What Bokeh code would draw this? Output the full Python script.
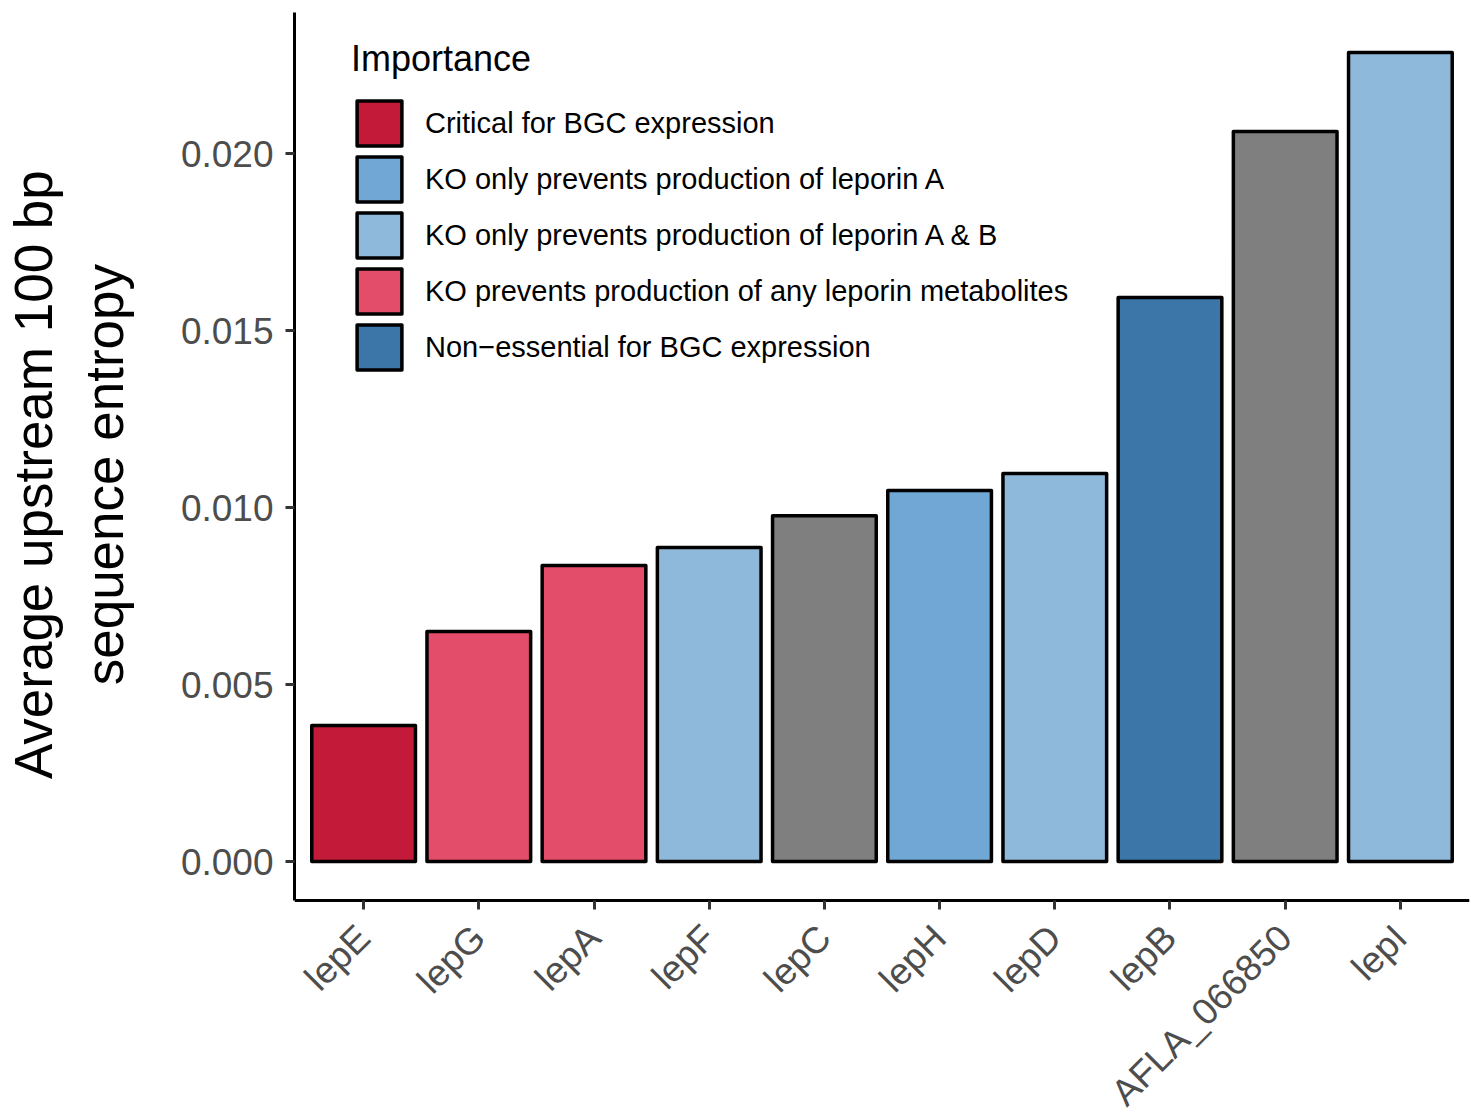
import math
from bokeh.plotting import figure
from bokeh.models import (ColumnDataSource, FactorRange, Range1d, FixedTicker,
                          NumeralTickFormatter, Legend, LegendItem)
from bokeh.embed import file_html
from bokeh.resources import INLINE

# ---- data ----
genes = ["lepE", "lepG", "lepA", "lepF", "lepC", "lepH", "lepD", "lepB", "AFLA_066850", "lepI"]
entropy = [0.00384, 0.00650, 0.00836, 0.00887, 0.00977, 0.01048, 0.01096, 0.01593, 0.02062, 0.02285]
importance = [
    "Critical for BGC expression",
    "KO prevents production of any leporin metabolites",
    "KO prevents production of any leporin metabolites",
    "KO only prevents production of leporin A & B",
    "NA",
    "KO only prevents production of leporin A",
    "KO only prevents production of leporin A & B",
    "Non\u2212essential for BGC expression",
    "NA",
    "KO only prevents production of leporin A & B",
]
legend_levels = [
    "Critical for BGC expression",
    "KO only prevents production of leporin A",
    "KO only prevents production of leporin A & B",
    "KO prevents production of any leporin metabolites",
    "Non\u2212essential for BGC expression",
]
level_colors = ["#C21A38", "#71A7D4", "#8FB9DB", "#E34D69", "#3C76A8"]
na_color = "#7F7F7F"
y_ticks = [0.000, 0.005, 0.010, 0.015, 0.020]
y_title_lines = ["Average upstream 100 bp", "sequence entropy"]

color_map = dict(zip(legend_levels, level_colors))
colors = [color_map.get(k, na_color) for k in importance]

# panel limits (ggplot-like expansion) and room kept below the panel for labels
y_start, y_end = -0.0011, 0.023983
panel_px = 888          # panel height in pixels
below_px = 213          # space under the panel for the rotated gene labels
px_per_unit = panel_px / (y_end - y_start)
y_bottom = y_start - below_px / px_per_unit

src = ColumnDataSource(dict(gene=genes, value=entropy, imp=importance, color=colors))

p = figure(width=1471, height=1113, output_backend="svg", toolbar_location=None,
           x_range=FactorRange(*genes, range_padding=0.1, range_padding_units="absolute"),
           y_range=Range1d(y_bottom, y_end),
           min_border_left=294, min_border_right=2, min_border_top=12, min_border_bottom=0)

r = p.vbar(x="gene", top="value", bottom=0, width=0.9, source=src,
           fill_color="color", line_color="black", line_width=3.5, line_join="round")

p.xgrid.visible = False
p.ygrid.visible = False
p.outline_line_color = None
p.background_fill_color = "white"
p.border_fill_color = "white"

# y axis (line limited to the panel)
p.yaxis.ticker = FixedTicker(ticks=y_ticks)
p.yaxis.bounds = (y_start, y_end)
p.yaxis.formatter = NumeralTickFormatter(format="0.000")
# the axis title is centred on the whole frame (which reaches the bottom edge);
# leading no-break spaces move it up so it is centred on the panel as in the reference
pad = "\u00a0" * 12
p.yaxis.axis_label = "\n".join(pad + line for line in y_title_lines)
p.yaxis.axis_label_text_font = "Liberation Sans"
p.yaxis.axis_label_text_font_size = "53px"
p.yaxis.axis_label_text_font_style = "normal"
p.yaxis.axis_label_text_color = "black"
p.yaxis.axis_label_standoff = 44
p.yaxis.minor_tick_line_color = None

for ax in (p.xaxis[0], p.yaxis[0]):
    ax.axis_line_color = "black"
    ax.axis_line_width = 3
    ax.major_tick_line_color = "#333333"
    ax.major_tick_line_width = 3
    ax.major_tick_out = 9
    ax.major_tick_in = 0
    ax.major_label_text_font = "Liberation Sans"
    ax.major_label_text_font_size = "37px"
    ax.major_label_text_color = "#4D4D4D"

p.yaxis.major_label_standoff = 12
# x axis sits at the bottom of the panel, labels rotated 45 degrees
p.xaxis.fixed_location = y_start
p.xaxis.major_label_orientation = math.pi / 4
p.xaxis.major_label_standoff = 22

# legend (grey NA bars not listed)
items = []
for lvl in legend_levels:
    idx = importance.index(lvl)
    items.append(LegendItem(label=lvl, renderers=[r], index=idx))
legend = Legend(items=items, location=(57, 525 + below_px), title="Importance",
                title_text_font="Liberation Sans", title_text_font_size="36px",
                title_text_font_style="normal", title_text_color="black", title_standoff=15,
                label_text_font="Liberation Sans", label_text_font_size="29px",
                label_text_color="black",
                glyph_width=56, glyph_height=56, label_height=56, spacing=0,
                label_standoff=18, padding=0, margin=0,
                border_line_color=None, background_fill_alpha=0)
p.add_layout(legend, "center")

open("out.html", "w").write(file_html(p, INLINE))
